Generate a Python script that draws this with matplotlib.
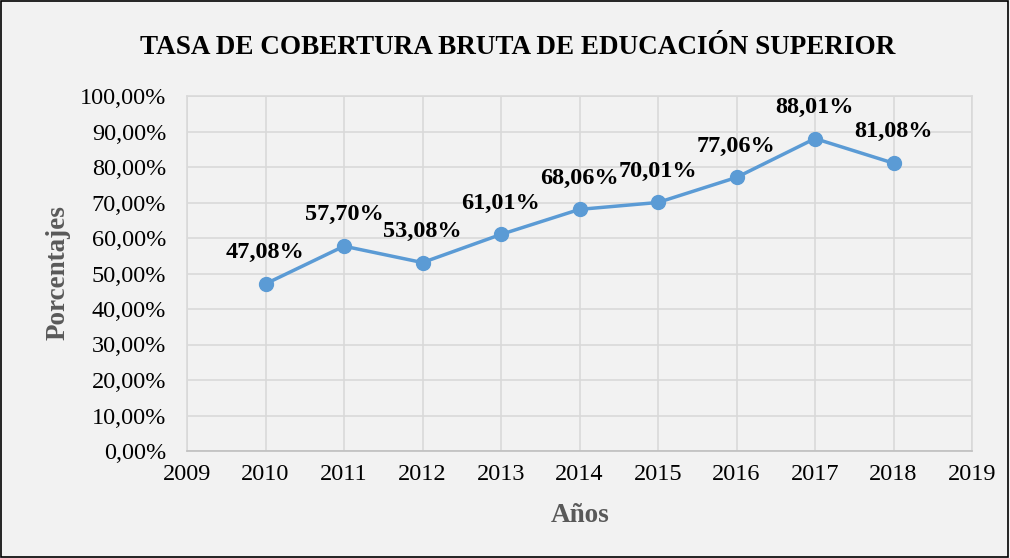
import matplotlib.pyplot as plt
from matplotlib.patches import Rectangle

# Data
anios = [2010, 2011, 2012, 2013, 2014, 2015, 2016, 2017, 2018]
tasa = [47.08, 57.70, 53.08, 61.01, 68.06, 70.01, 77.06, 88.01, 81.08]
etiquetas = ['47,08%', '57,70%', '53,08%', '61,01%', '68,06%', '70,01%', '77,06%', '88,01%', '81,08%']

plt.rcParams['font.family'] = ['Liberation Serif', 'DejaVu Serif']

fondo = '#F2F2F2'
W, H = 1010, 558
fig = plt.figure(figsize=(W / 100, H / 100), dpi=100, facecolor=fondo)
ax = fig.add_axes([187 / W, 1 - 451 / H, (972 - 187) / W, (451 - 96) / H])
ax.set_facecolor(fondo)

ax.plot(anios, tasa, color='#5B9BD5', linewidth=2.5, marker='o', markersize=10, zorder=3)
for x, y, t in zip(anios, tasa, etiquetas):
    ax.annotate(t, (x, y), xytext=(0, 15), textcoords='offset points',
                ha='center', va='bottom', fontsize=17.5, fontweight='bold')

ax.set_xlim(2009, 2019)
ax.set_ylim(0, 100)
ax.set_xticks(range(2009, 2020))
ax.set_yticks(range(0, 101, 10))
ax.set_yticklabels(['%d,00%%' % v for v in range(0, 101, 10)])
ax.tick_params(length=0, labelsize=17.5)
ax.tick_params(axis='y', pad=15)
ax.tick_params(axis='x', pad=9)
ax.grid(True, color='#D9D9D9', linewidth=1.2)
ax.set_axisbelow(True)
for s in ax.spines.values():
    s.set_color('#D9D9D9')
    s.set_linewidth(1.2)
ax.spines['bottom'].set_color('#BFBFBF')

fig.text(518 / W, 1 - 48 / H, 'TASA DE COBERTURA BRUTA DE EDUCACIÓN SUPERIOR',
         fontsize=19.5, fontweight='bold', ha='center', va='center')
fig.text(580 / W, 1 - 516 / H, 'Años', fontsize=19.5, fontweight='bold',
         color='#595959', ha='center', va='center')
fig.text(58 / W, 1 - 273 / H, 'Porcentajes', fontsize=19.5, fontweight='bold',
         color='#595959', ha='center', va='center', rotation=90)

fig.patches.append(Rectangle((0.001, 0.002), 0.997, 0.996, transform=fig.transFigure,
                             fill=False, edgecolor='black', linewidth=1.2))

fig.savefig('out.png', dpi=100, facecolor=fondo)
